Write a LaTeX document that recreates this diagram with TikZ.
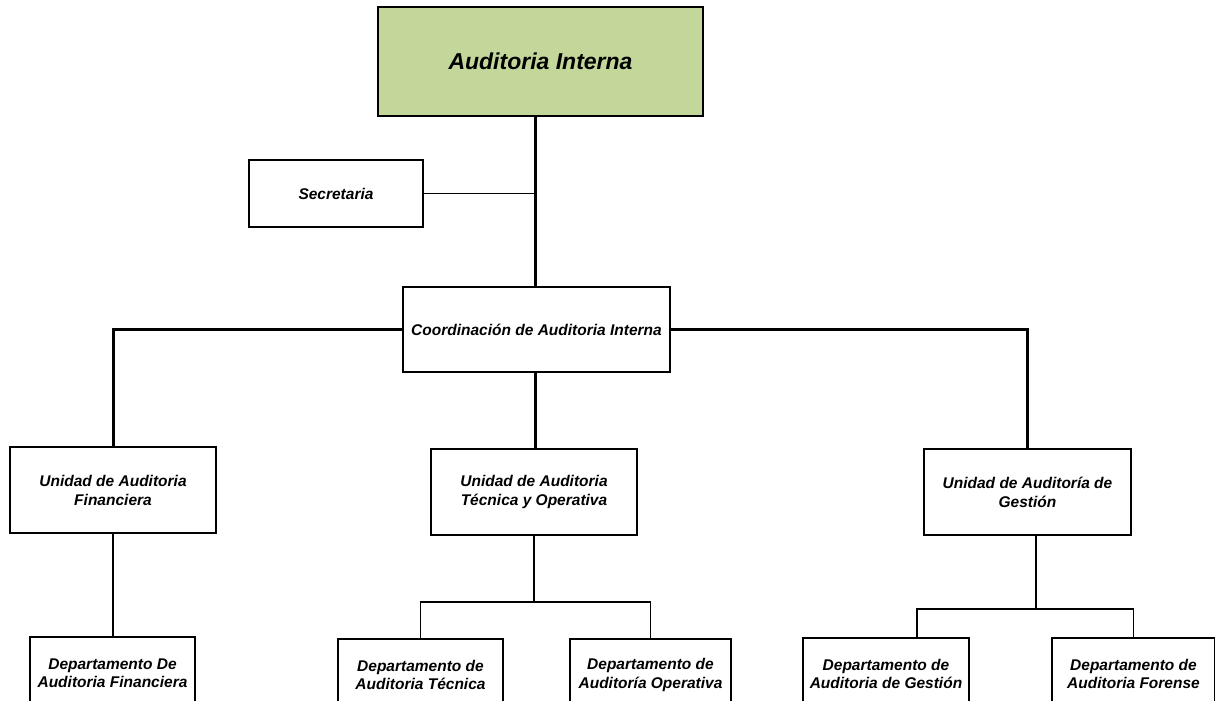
\documentclass[tikz,border=0pt]{standalone}
\usepackage{fontspec}
\setmainfont{Liberation Sans}

\definecolor{headgreen}{RGB}{196,215,155}

\tikzset{
  orgbox/.style={draw=black,line width=1.3pt,inner sep=2pt,align=center,
    font=\fontsize{15.5}{19}\selectfont\bfseries\itshape},
  headbox/.style={orgbox,fill=headgreen,line width=2pt,
    font=\fontsize{23}{27}\selectfont\bfseries\itshape},
  deptbox/.style={orgbox,font=\fontsize{15.5}{18.5}\selectfont\bfseries\itshape},
  mainlink/.style={line width=3pt},
  sublink/.style={line width=1.3pt}
}

\begin{document}
\begin{tikzpicture}[x=1pt,y=-1pt]

        % Page frame (picture is cut at the bottom)
        \clip (0,0) rectangle (1215,701);

        % Head
        \node[headbox,minimum width=325,minimum height=109] (audit) at (540.5,61.5) {Auditoria Interna};
        \node[orgbox,minimum width=174,minimum height=67] (secre) at (336,193.5) {Secretaria};
        \node[orgbox,minimum width=267,minimum height=85] (coord) at (536.5,329.5) {Coordinación de Auditoria Interna};

        % Units
        \node[orgbox,minimum width=206,minimum height=86] (ufin) at (113,490) {Unidad de Auditoria\\Financiera};
        \node[orgbox,minimum width=206,minimum height=86] (utec) at (534,492) {Unidad de Auditoria\\Técnica y Operativa};
        \node[orgbox,minimum width=207,minimum height=86] (ugest) at (1027.5,492) {Unidad de Auditoría de\\Gestión};

        % Departments
        \node[deptbox,minimum width=165,minimum height=72] (dfin) at (112.5,673) {Departamento De\\Auditoria Financiera};
        \node[deptbox,minimum width=165,minimum height=72] (dtec) at (420.5,675) {Departamento de\\Auditoria Técnica};
        \node[deptbox,minimum width=161,minimum height=72] (doper) at (650.5,675) {Departamento de\\Auditoría Operativa};
        \node[deptbox,minimum width=166,minimum height=72] (dgest) at (886,674) {Departamento de\\Auditoria de Gestión};
        \node[deptbox,minimum width=163,minimum height=72] (dfor) at (1133.5,674) {Departamento de\\Auditoria Forense};

        % Bus points
        \coordinate (tecbus) at (534,602);
        \coordinate (gestbus) at (1036,609);
        \coordinate (gestleft) at (917,609);

        % Upper links
        \draw[mainlink] (coord.north -| 535,0) -- (audit.south -| 535,0);
        \draw[sublink] (secre.east) -- (secre.east -| 535,0);
        \draw[mainlink] (coord.west) -| (ufin.north);
        \draw[mainlink] (coord.east) -| (ugest.north);
        \draw[mainlink] (coord.south -| 535,0) -- (utec.north -| 535,0);

        % Lower links
        \draw[sublink] (ufin.south) -- (ufin.south |- dfin.north);
        \draw[sublink] (utec.south) -- (tecbus);
        \draw[sublink] (dtec.north) |- (tecbus) -| (doper.north);
        \draw[sublink] (ugest.south -| gestbus) -- (gestbus);
        \draw[sublink] (gestleft |- dgest.north) -- (gestleft) -| (dfor.north);

\end{tikzpicture}
\end{document}
